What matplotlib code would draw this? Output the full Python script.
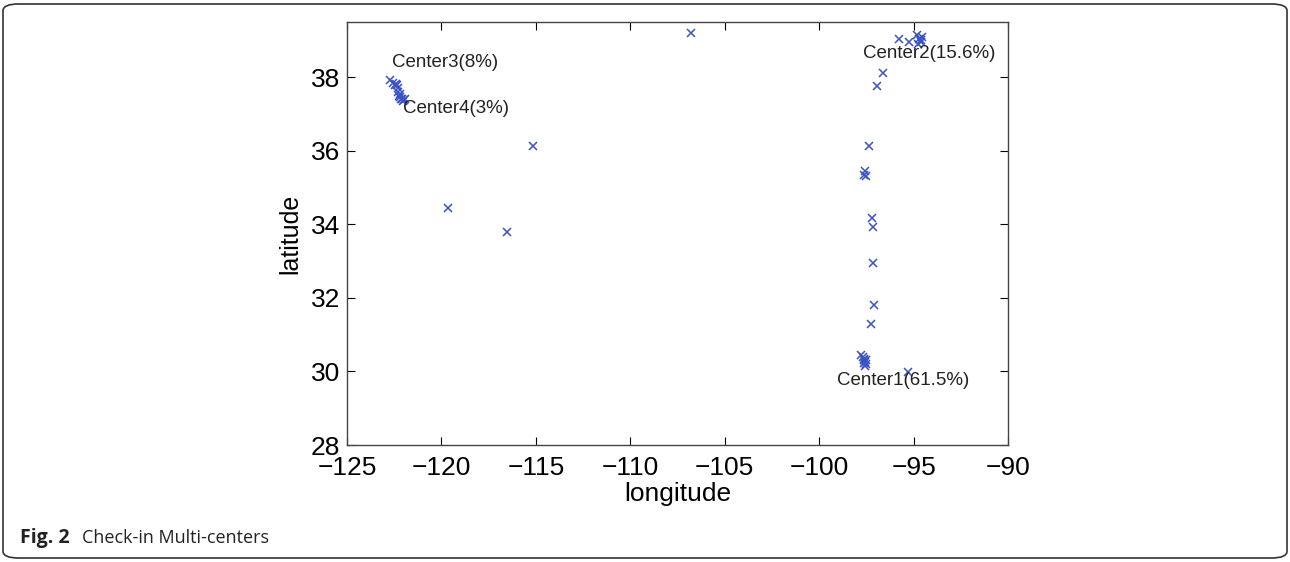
import matplotlib.pyplot as plt
from matplotlib.patches import FancyBboxPatch

# check-in locations (longitude, latitude)
lon = [-122.70, -122.55, -122.45, -122.35, -122.30, -122.25, -122.20, -122.15, -122.10, -122.05, -122.00, -121.95,
       -122.40, -122.30, -122.20,
       -106.80, -115.15, -119.65, -116.55,
       -95.75, -95.25, -94.80, -94.70, -94.60, -94.55, -94.75, -94.60, -96.60, -96.95,
       -97.35, -97.55, -97.60, -97.50, -97.20, -97.15, -97.15, -97.10, -97.25,
       -97.80, -97.70, -97.60, -97.55, -97.50, -97.65, -97.55, -97.50, -97.60,
       -95.30]
lat = [37.92, 37.85, 37.80, 37.78, 37.60, 37.50, 37.45, 37.40, 37.42, 37.35, 37.38, 37.40,
       37.82, 37.70, 37.55,
       39.20, 36.12, 34.43, 33.80,
       39.05, 38.95, 39.15, 39.05, 38.95, 39.10, 38.90, 39.00, 38.10, 37.76,
       36.12, 35.45, 35.35, 35.30, 34.18, 33.93, 32.95, 31.80, 31.30,
       30.45, 30.40, 30.30, 30.25, 30.20, 30.35, 30.15, 30.30, 30.22,
       29.98]

centers = ['Center1(61.5%)', 'Center2(15.6%)', 'Center3(8%)', 'Center4(3%)']
center_pos = [(-99.05, 29.74), (-97.7, 38.65), (-122.62, 38.41), (-122.05, 37.16)]

plt.rcParams['font.family'] = ['Liberation Sans', 'DejaVu Sans']

fig = plt.figure(figsize=(12.9, 5.62), dpi=100)
ax = fig.add_axes([347 / 1290, 1 - 445 / 562, 661 / 1290, 423 / 562])

ax.plot(lon, lat, 'x', color='#3a52c2', markersize=6, markeredgewidth=1.1)

for name, (x, y) in zip(centers, center_pos):
    ax.text(x, y, name, fontsize=13.5, color='#222222', va='center')

ticks_x = list(range(-125, -89, 5))
ax.set_xlim(-125, -90)
ax.set_ylim(28, 39.5)
ax.set_xticks(ticks_x)
ax.set_yticks(range(28, 39, 2))
ax.set_xticklabels(['\u2212%d' % abs(v) for v in ticks_x])
ax.tick_params(direction='in', length=6, top=True, right=True, labelsize=19)
ax.tick_params(axis='x', pad=8)
ax.tick_params(axis='y', pad=5)
ax.set_xlabel('longitude', fontsize=19, labelpad=1)
ax.set_ylabel('latitude', fontsize=18, labelpad=6)
for s in ax.spines.values():
    s.set_linewidth(1.0)
    s.set_color('#444444')

# border and caption
box = FancyBboxPatch((3 / 1290, 4 / 562), 1284 / 1290, 554 / 562,
                     boxstyle='round,pad=0,rounding_size=0.012',
                     transform=fig.transFigure, fill=False,
                     edgecolor='#333333', linewidth=1.2)
fig.patches.append(box)
fig.text(20 / 1290, 1 - 538 / 562, 'Fig. 2', fontsize=14, fontweight='bold',
         family='Open Sans', va='center', color='#222222')
fig.text(82 / 1290, 1 - 538 / 562, 'Check-in Multi-centers', fontsize=13,
         family='Open Sans', va='center', color='#222222')

plt.savefig('out.png', dpi=100)
